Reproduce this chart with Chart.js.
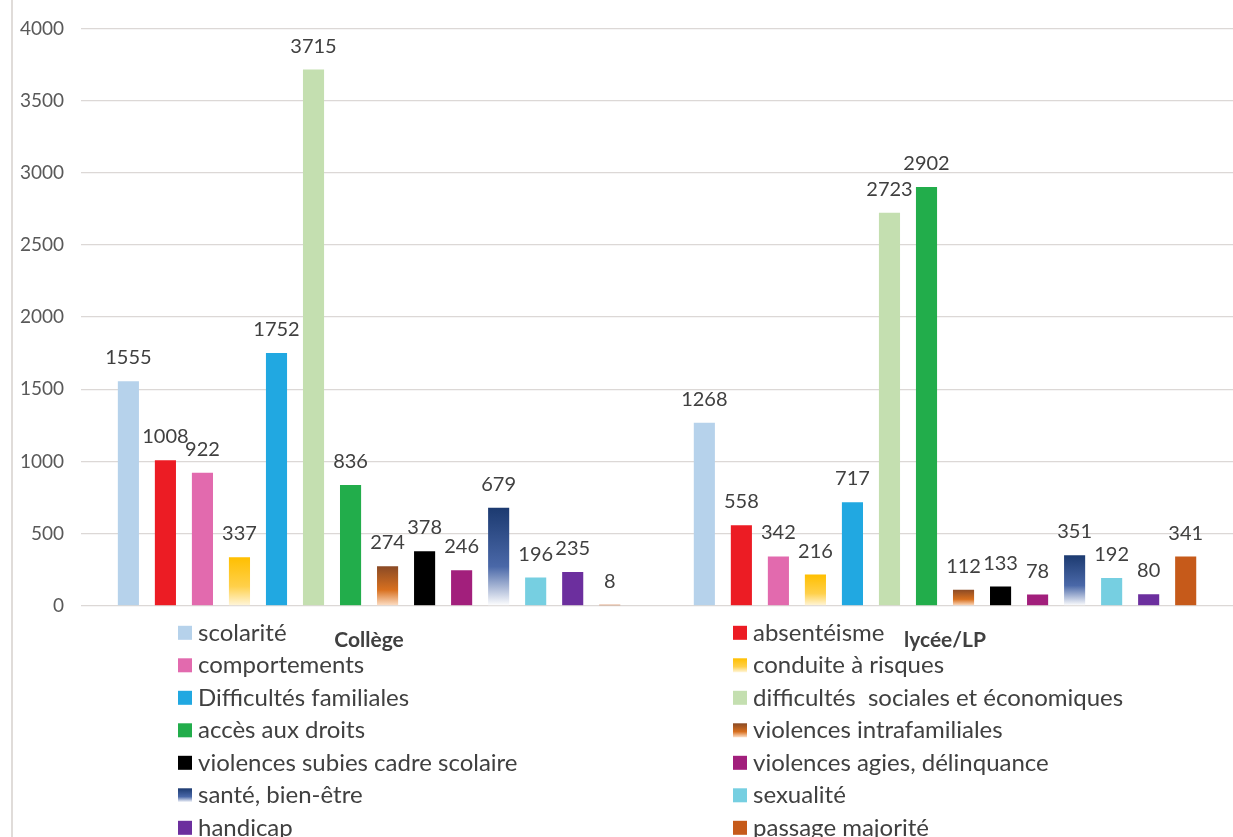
<!DOCTYPE html>
<html>
<head>
<meta charset="utf-8">
<script src="https://cdn.jsdelivr.net/npm/chart.js@4.4.1/dist/chart.umd.min.js"></script>
<style>
  body { margin: 0; background: #fff; }
  #wrap { width: 1233px; height: 837px; position: relative; }
</style>
</head>
<body>
<div id="wrap"><canvas id="myChart"></canvas></div>
<script>
// categories
const categories = ["Collège", "lycée/LP"];

// series names (legend order)
const seriesNames = [
  "scolarité", "absentéisme", "comportements", "conduite à risques",
  "Difficultés familiales", "difficultés  sociales et économiques",
  "accès aux droits", "violences intrafamiliales",
  "violences subies cadre scolaire", "violences agies, délinquance",
  "santé, bien-être", "sexualité", "handicap", "passage majorité"
];

// values per series: [Collège, lycée/LP]
const scolarite      = [1555, 1268];
const absenteisme    = [1008, 558];
const comportements  = [922, 342];
const conduite       = [337, 216];
const diffFamiliales = [1752, 717];
const diffSociales   = [3715, 2723];
const accesDroits    = [836, 2902];
const violIntrafam   = [274, 112];
const violSubies     = [378, 133];
const violAgies      = [246, 78];
const sante          = [679, 351];
const sexualite      = [196, 192];
const handicap       = [235, 80];
const majorite       = [8, 341];

const seriesValues = [
  scolarite, absenteisme, comportements, conduite, diffFamiliales, diffSociales,
  accesDroits, violIntrafam, violSubies, violAgies, sante, sexualite, handicap, majorite
];

// y axis ticks
const yTicks = [0, 500, 1000, 1500, 2000, 2500, 3000, 3500, 4000];

// colours: plain string or gradient stops (top -> bottom)
const colors = [
  "#b6d2eb", "#ec1c24", "#e26aae", ["#ffbf00", "#ffd04a", "#fff6dc"],
  "#21a8e1", "#c4dfb0", "#22ad4b", ["#8a4a25", "#d8701f", "#fde0c8"],
  "#000000", "#a21f7c", ["#1c3a70", "#4a68a8", "#ffffff"], "#76cfe1", "#6c2f9e", "#c65a1a"
];

const textColor = "#404040";
const font = "Lato, 'Open Sans', sans-serif";

function fill(stops, ctx, top, bottom) {
  if (typeof stops === "string") return stops;
  const g = ctx.createLinearGradient(0, top, 0, bottom);
  g.addColorStop(0, stops[0]);
  g.addColorStop(0.6, stops[1]);
  g.addColorStop(1, stops[2]);
  return g;
}

const datasets = seriesNames.map((name, i) => ({
  label: name,
  data: seriesValues[i],
  backgroundColor: (c) => {
    const chart = c.chart;
    const area = chart.chartArea;
    const col = colors[i];
    if (typeof col === "string") return col;
    if (!area || c.raw === undefined) return col[0];
    const top = chart.scales.y.getPixelForValue(c.raw);
    return fill(col, chart.ctx, top, area.bottom);
  },
  categoryPercentage: 0.9,
  barPercentage: 0.57
}));

// value labels above bars
const valueLabels = {
  id: "valueLabels",
  afterDatasetsDraw(chart) {
    const ctx = chart.ctx;
    ctx.save();
    ctx.font = "20px " + font;
    ctx.fillStyle = textColor;
    ctx.textAlign = "center";
    ctx.textBaseline = "alphabetic";
    chart.data.datasets.forEach((ds, i) => {
      chart.getDatasetMeta(i).data.forEach((bar, j) => {
        ctx.fillText(ds.data[j], bar.x, bar.y - 17);
      });
    });
    ctx.restore();
  }
};

// two-column legend under the axis + left frame line
const bottomLegend = {
  id: "bottomLegend",
  afterDraw(chart) {
    const ctx = chart.ctx;
    const base = chart.chartArea.bottom;
    ctx.save();
    ctx.strokeStyle = "#d6d0cc";
    ctx.lineWidth = 1.5;
    ctx.beginPath();
    ctx.moveTo(12, 0);
    ctx.lineTo(12, chart.height);
    ctx.stroke();

    ctx.font = "24px " + font;
    ctx.textBaseline = "middle";
    ctx.textAlign = "left";
    chart.data.datasets.forEach((ds, i) => {
      const col = i % 2;
      const row = Math.floor(i / 2);
      const x = col === 0 ? 178 : 733;
      const y = base + 27 + row * 32.5;
      ctx.fillStyle = fill(colors[i], ctx, y - 7, y + 7);
      ctx.fillRect(x, y - 7, 14, 14);
      ctx.fillStyle = textColor;
      ctx.fillText(ds.label, x + 20, y);
    });
    ctx.restore();
  }
};

new Chart(document.getElementById("myChart"), {
  type: "bar",
  data: {
    labels: categories,
    datasets: datasets
  },
  options: {
    responsive: true,
    maintainAspectRatio: false,
    animation: false,
    layout: { padding: { top: 0, left: 3, right: 0, bottom: 170 } },
    plugins: {
      legend: { display: false },
      tooltip: { enabled: false }
    },
    scales: {
      x: {
        grid: { display: false },
        border: { display: false },
        ticks: {
          color: textColor,
          font: { family: font, size: 21, weight: "bold" },
          padding: 14
        }
      },
      y: {
        min: 0,
        max: 4000,
        afterBuildTicks: (axis) => { axis.ticks = yTicks.map(v => ({ value: v })); },
        grid: { color: "#dcd8d6", lineWidth: 1.3, drawTicks: false },
        border: { display: false },
        ticks: {
          color: "#595959",
          font: { family: font, size: 19 },
          padding: 17,
          callback: (v) => String(v)
        }
      }
    }
  },
  plugins: [valueLabels, bottomLegend]
});
</script>
</body>
</html>
